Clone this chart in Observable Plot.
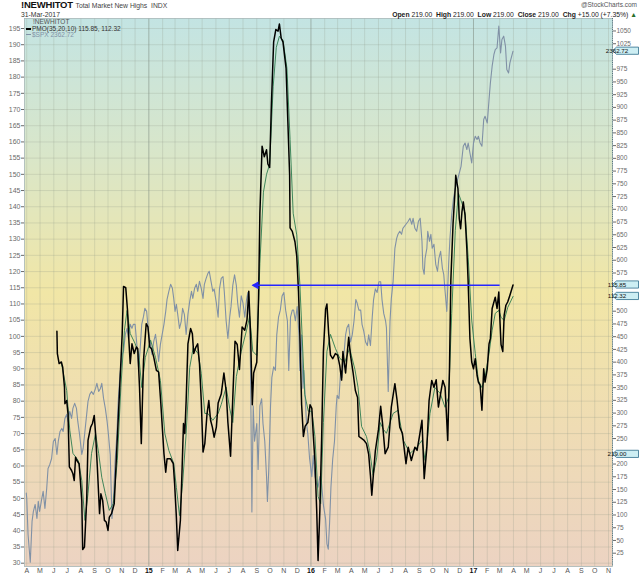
<!DOCTYPE html>
<html><head><meta charset="utf-8">
<script src="https://cdn.jsdelivr.net/npm/d3@7"></script>
<script src="https://cdn.jsdelivr.net/npm/@observablehq/plot@0.6"></script>
<style>
body{margin:0;background:#fff;}
#wrap{position:relative;width:640px;height:576px;font-family:"Liberation Sans",Arial,sans-serif;overflow:hidden;background:#fff}
#wrap svg{position:absolute;left:0;top:0}
.t{position:absolute;white-space:nowrap;line-height:1}
</style></head><body><div id="wrap"></div>
<script>
// ---------- data ----------
const pmo = [["2014-06-08",101.6],["2014-06-09",94.7],["2014-06-13",91.6],["2014-06-18",92.1],["2014-06-21",90.5],["2014-06-25",84.3],["2014-06-26",79.2],["2014-06-30",80.2],["2014-07-03",76.1],["2014-07-06",59.7],["2014-07-11",58.6],["2014-07-14",57.6],["2014-07-17",55.5],["2014-07-20",62.7],["2014-07-23",61.7],["2014-07-28",60.7],["2014-08-03",49.4],["2014-08-05",34.2],["2014-08-09",35.0],["2014-08-14",49.4],["2014-08-17",67.9],["2014-08-23",72.0],["2014-08-27",73.1],["2014-08-31",75.6],["2014-09-03",70.0],["2014-09-07",59.7],["2014-09-12",45.3],["2014-09-15",51.4],["2014-09-19",49.4],["2014-09-23",43.2],["2014-09-27",42.7],["2014-10-01",40.1],["2014-10-04",44.2],["2014-10-09",45.3],["2014-10-15",48.3],["2014-10-21",65.8],["2014-10-26",80.2],["2014-11-02",100.8],["2014-11-05",115.4],["2014-11-10",115.0],["2014-11-14",108.0],["2014-11-17",98.8],["2014-11-20",91.6],["2014-11-24",97.7],["2014-11-29",94.7],["2014-12-04",96.7],["2014-12-07",96.2],["2014-12-11",84.3],["2014-12-15",66.9],["2014-12-20",92.6],["2014-12-26",103.9],["2014-12-30",102.9],["2015-01-03",96.7],["2015-01-07",96.2],["2015-01-12",93.6],["2015-01-18",89.5],["2015-01-23",89.0],["2015-01-28",79.2],["2015-02-04",63.8],["2015-02-08",58.1],["2015-02-11",62.2],["2015-02-19",62.2],["2015-02-25",60.7],["2015-02-28",54.5],["2015-03-04",44.2],["2015-03-07",33.9],["2015-03-13",43.2],["2015-03-17",59.7],["2015-03-20",73.1],["2015-03-23",70.0],["2015-03-26",80.2],["2015-03-30",97.7],["2015-04-05",102.4],["2015-04-09",100.8],["2015-04-12",94.7],["2015-04-17",96.7],["2015-04-21",97.7],["2015-04-25",91.6],["2015-04-29",80.2],["2015-05-03",64.3],["2015-05-07",66.9],["2015-05-12",76.1],["2015-05-16",80.2],["2015-05-20",74.1],["2015-05-24",72.0],["2015-05-28",68.9],["2015-06-02",72.0],["2015-06-06",79.4],["2015-06-13",82.2],["2015-06-19",88.7],["2015-06-24",83.3],["2015-06-28",73.4],["2015-07-04",63.0],["2015-07-09",81.1],["2015-07-14",98.5],["2015-07-19",97.5],["2015-07-24",89.8],["2015-07-30",102.9],["2015-08-05",101.9],["2015-08-10",105.1],["2015-08-14",113.9],["2015-08-18",100.7],["2015-08-22",78.9],["2015-08-25",88.7],["2015-09-01",92.0],["2015-09-05",111.7],["2015-09-08",137.9],["2015-09-13",158.7],["2015-09-18",155.4],["2015-09-23",157.6],["2015-09-26",153.2],["2015-09-30",152.1],["2015-10-04",171.8],["2015-10-09",190.9],["2015-10-14",194.7],["2015-10-19",194.2],["2015-10-22",196.4],["2015-10-26",192.0],["2015-10-30",190.9],["2015-11-06",182.7],["2015-11-10",166.3],["2015-11-14",149.9],["2015-11-15",133.5],["2015-11-20",132.4],["2015-11-26",129.2],["2015-11-30",124.8],["2015-12-04",113.9],["2015-12-07",100.7],["2015-12-11",78.9],["2015-12-15",69.1],["2015-12-19",72.3],["2015-12-25",73.4],["2015-12-30",78.9],["2016-01-03",77.8],["2016-01-06",70.1],["2016-01-10",61.4],["2016-01-14",46.1],["2016-01-17",30.8],["2016-01-21",46.1],["2016-01-25",68.0],["2016-01-29",95.3],["2016-02-03",108.4],["2016-02-06",110.0],["2016-02-10",100.7],["2016-02-14",94.2],["2016-02-19",93.1],["2016-02-25",94.7],["2016-03-01",94.2],["2016-03-06",90.9],["2016-03-10",86.5],["2016-03-13",95.3],["2016-03-19",88.7],["2016-03-23",95.3],["2016-03-26",99.7],["2016-03-30",94.2],["2016-04-05",88.7],["2016-04-10",83.3],["2016-04-15",81.1],["2016-04-18",69.1],["2016-04-24",68.5],["2016-04-29",68.0],["2016-05-05",66.9],["2016-05-10",63.6],["2016-05-14",57.0],["2016-05-17",51.0],["2016-05-21",58.1],["2016-05-25",64.7],["2016-06-01",71.2],["2016-06-06",78.4],["2016-06-10",73.4],["2016-06-16",63.8],["2016-06-23",65.8],["2016-06-30",78.2],["2016-07-08",85.4],["2016-07-13",80.2],["2016-07-19",72.0],["2016-07-25",70.0],["2016-08-02",60.7],["2016-08-07",65.8],["2016-08-14",61.7],["2016-08-22",65.8],["2016-08-27",64.8],["2016-09-01",68.9],["2016-09-07",74.1],["2016-09-12",56.1],["2016-09-18",65.8],["2016-09-23",80.2],["2016-09-29",86.4],["2016-10-04",84.3],["2016-10-09",86.6],["2016-10-14",78.2],["2016-10-19",82.3],["2016-10-24",86.4],["2016-10-29",84.3],["2016-11-04",67.9],["2016-11-08",90.5],["2016-11-11",117.3],["2016-11-16",134.8],["2016-11-21",146.1],["2016-11-22",149.7],["2016-11-27",145.6],["2016-11-30",136.3],["2016-12-03",133.2],["2016-12-06",138.4],["2016-12-09",141.5],["2016-12-13",137.4],["2016-12-17",127.1],["2016-12-20",116.7],["2016-12-24",99.3],["2016-12-28",92.1],["2017-01-01",90.0],["2017-01-05",93.1],["2017-01-09",88.0],["2017-01-12",85.9],["2017-01-16",84.9],["2017-01-20",77.2],["2017-01-24",90.0],["2017-01-27",85.9],["2017-02-01",90.0],["2017-02-05",97.7],["2017-02-08",99.3],["2017-02-12",108.6],["2017-02-16",110.6],["2017-02-19",112.1],["2017-02-23",108.6],["2017-02-27",113.7],["2017-03-01",106.5],["2017-03-04",97.5],["2017-03-08",95.3],["2017-03-11",106.5],["2017-03-15",109.6],["2017-03-19",110.6],["2017-03-24",112.7],["2017-03-31",115.85]];

const pmoSignal = [["2014-06-18",91.7],["2014-06-30",83.3],["2014-07-07",71.0],["2014-07-14",63.9],["2014-07-26",61.7],["2014-08-03",55.5],["2014-08-10",43.2],["2014-08-17",51.5],["2014-08-25",63.9],["2014-09-03",70.0],["2014-09-10",63.9],["2014-09-17",56.5],["2014-09-25",51.5],["2014-10-04",46.3],["2014-10-13",48.4],["2014-10-22",61.7],["2014-10-30",84.2],["2014-11-07",101.9],["2014-11-13",108.0],["2014-11-20",100.9],["2014-12-01",97.8],["2014-12-09",94.7],["2014-12-16",84.2],["2014-12-24",93.5],["2015-01-05",98.8],["2015-01-16",93.5],["2015-01-27",86.4],["2015-02-06",70.0],["2015-02-15",64.8],["2015-02-26",60.8],["2015-03-04",53.4],["2015-03-11",44.7],["2015-03-18",54.6],["2015-03-26",70.0],["2015-04-03",90.4],["2015-04-11",96.6],["2015-04-22",94.7],["2015-04-29",88.6],["2015-05-07",76.2],["2015-05-14",76.2],["2015-05-25",74.1],["2015-06-06",76.2],["2015-06-13",79.0],["2015-06-24",84.3],["2015-07-02",77.8],["2015-07-09",73.4],["2015-07-17",87.6],["2015-07-28",95.4],["2015-08-09",101.9],["2015-08-16",106.2],["2015-08-23",95.4],["2015-09-01",94.1],["2015-09-08",122.5],["2015-09-16",144.5],["2015-09-23",150.0],["2015-09-30",153.1],["2015-10-08",177.2],["2015-10-15",189.2],["2015-10-22",192.6],["2015-10-30",191.4],["2015-11-08",182.7],["2015-11-15",160.8],["2015-11-22",138.0],["2015-11-30",131.3],["2015-12-07",116.1],["2015-12-12",100.6],["2015-12-18",82.1],["2015-12-26",76.9],["2016-01-03",76.9],["2016-01-10",69.1],["2016-01-17",50.6],["2016-01-23",48.4],["2016-01-29",73.4],["2016-02-06",95.4],["2016-02-14",100.6],["2016-02-25",96.3],["2016-03-06",93.2],["2016-03-17",92.0],["2016-03-28",96.3],["2016-04-09",89.8],["2016-04-16",84.3],["2016-04-24",72.2],["2016-05-05",69.1],["2016-05-12",64.8],["2016-05-20",57.1],["2016-05-28",62.5],["2016-06-05",73.4],["2016-06-12",71.3],["2016-06-19",70.1],["2016-07-04",76.2],["2016-07-15",77.2],["2016-07-27",67.9],["2016-08-11",63.9],["2016-08-26",65.7],["2016-09-07",67.9],["2016-09-14",61.7],["2016-09-25",76.2],["2016-10-06",84.2],["2016-10-18",82.4],["2016-10-29",78.1],["2016-11-06",81.2],["2016-11-13",107.1],["2016-11-21",132.7],["2016-11-28",144.2],["2016-12-06",141.1],["2016-12-13",138.0],["2016-12-20",124.4],["2016-12-28",105.0],["2017-01-05",94.7],["2017-01-12",86.4],["2017-01-20",84.2],["2017-01-27",87.3],["2017-02-05",94.7],["2017-02-12",101.9],["2017-02-19",107.1],["2017-02-27",108.0],["2017-03-04",105.9],["2017-03-11",104.9],["2017-03-19",108.9],["2017-03-31",112.32]];

const spx = [["2014-03-31",1890.2],["2014-04-01",1884.9],["2014-04-04",1846.1],["2014-04-09",1816.4],["2014-04-13",1860.0],["2014-04-16",1870.7],["2014-04-20",1878.1],["2014-04-24",1863.2],["2014-04-27",1881.4],["2014-04-30",1870.7],["2014-05-05",1884.6],["2014-05-08",1892.1],["2014-05-12",1873.9],["2014-05-16",1895.2],["2014-05-19",1916.6],["2014-05-23",1920.9],["2014-05-27",1927.3],["2014-05-31",1945.5],["2014-06-04",1948.7],["2014-06-08",1931.6],["2014-06-11",1945.5],["2014-06-15",1956.2],["2014-06-19",1959.4],["2014-06-22",1956.2],["2014-06-26",1970.1],["2014-06-30",1974.4],["2014-07-03",1966.9],["2014-07-07",1977.6],["2014-07-11",1970.1],["2014-07-14",1980.8],["2014-07-18",1986.2],["2014-07-22",1980.8],["2014-07-25",1966.9],["2014-07-29",1953.0],["2014-08-03",1931.6],["2014-08-06",1938.0],["2014-08-10",1956.2],["2014-08-14",1974.4],["2014-08-17",1988.3],["2014-08-21",1995.8],["2014-08-25",1999.0],["2014-08-29",1995.8],["2014-09-03",2002.2],["2014-09-06",2007.6],["2014-09-10",1999.0],["2014-09-14",2002.2],["2014-09-17",2007.6],["2014-09-21",1991.5],["2014-09-25",1980.8],["2014-09-29",1966.9],["2014-10-02",1953.0],["2014-10-06",1931.6],["2014-10-10",1863.2],["2014-10-13",1881.4],["2014-10-17",1924.2],["2014-10-21",1953.0],["2014-10-24",1988.3],["2014-10-28",2017.2],["2014-11-02",2038.6],["2014-11-05",2041.8],["2014-11-09",2060.0],["2014-11-13",2066.4],["2014-11-16",2055.7],["2014-11-20",2070.7],["2014-11-24",2066.4],["2014-11-27",2070.7],["2014-12-01",2070.7],["2014-12-05",2049.3],["2014-12-09",2023.6],["2014-12-12",2041.8],["2014-12-16",2070.7],["2014-12-20",2079.2],["2014-12-23",2087.8],["2014-12-27",2084.6],["2014-12-31",2063.2],["2015-01-05",2049.3],["2015-01-08",2038.6],["2015-01-12",2052.5],["2015-01-16",2060.0],["2015-01-20",2045.0],["2015-01-23",2031.1],["2015-01-27",2049.3],["2015-01-31",2060.0],["2015-02-04",2070.7],["2015-02-08",2084.6],["2015-02-11",2097.4],["2015-02-15",2106.0],["2015-02-19",2113.5],["2015-02-23",2109.2],["2015-02-26",2098.5],["2015-03-01",2084.6],["2015-03-04",2092.1],["2015-03-07",2081.4],["2015-03-11",2066.4],["2015-03-15",2073.9],["2015-03-18",2087.8],["2015-03-22",2081.4],["2015-03-26",2060.0],["2015-03-30",2081.4],["2015-04-03",2095.3],["2015-04-07",2106.0],["2015-04-10",2098.5],["2015-04-14",2109.2],["2015-04-18",2113.5],["2015-04-21",2106.0],["2015-04-25",2116.7],["2015-04-29",2109.2],["2015-05-03",2098.5],["2015-05-06",2113.5],["2015-05-10",2119.9],["2015-05-14",2125.2],["2015-05-17",2127.4],["2015-05-21",2116.7],["2015-05-25",2106.0],["2015-05-28",2108.6],["2015-06-02",2093.5],["2015-06-06",2078.3],["2015-06-09",2108.6],["2015-06-13",2119.9],["2015-06-17",2121.8],["2015-06-20",2104.8],["2015-06-24",2074.5],["2015-06-28",2055.6],["2015-07-02",2078.3],["2015-07-05",2089.6],["2015-07-09",2112.4],["2015-07-13",2123.7],["2015-07-17",2112.4],["2015-07-20",2093.5],["2015-07-24",2078.3],["2015-07-28",2101.1],["2015-08-01",2093.5],["2015-08-05",2078.3],["2015-08-09",2097.2],["2015-08-12",2104.8],["2015-08-16",2074.5],["2015-08-18",2021.5],["2015-08-21",1870.0],["2015-08-24",1983.6],["2015-08-27",1945.7],["2015-09-01",1964.7],["2015-09-04",1915.6],["2015-09-08",1983.6],["2015-09-12",1991.2],["2015-09-15",1964.7],["2015-09-19",1945.7],["2015-09-23",1907.9],["2015-09-25",1881.4],["2015-09-28",1915.6],["2015-10-02",1983.6],["2015-10-05",2014.0],["2015-10-09",2025.3],["2015-10-13",2021.5],["2015-10-16",2059.4],["2015-10-20",2078.3],["2015-10-24",2085.9],["2015-10-28",2101.1],["2015-11-01",2104.8],["2015-11-05",2085.9],["2015-11-09",2074.5],["2015-11-12",2021.5],["2015-11-16",2078.3],["2015-11-20",2085.9],["2015-11-23",2085.9],["2015-11-27",2074.5],["2015-12-01",2089.6],["2015-12-05",2059.4],["2015-12-07",2021.5],["2015-12-11",2059.4],["2015-12-14",2002.5],["2015-12-16",2021.5],["2015-12-20",1983.6],["2015-12-22",1964.7],["2015-12-25",1953.3],["2015-12-29",1926.8],["2016-01-03",1907.9],["2016-01-06",1930.5],["2016-01-10",1907.9],["2016-01-14",1900.3],["2016-01-17",1896.6],["2016-01-21",1907.9],["2016-01-25",1900.3],["2016-01-29",1877.6],["2016-02-03",1862.4],["2016-02-06",1836.0],["2016-02-09",1830.3],["2016-02-12",1858.7],["2016-02-15",1896.6],["2016-02-19",1926.8],["2016-02-23",1945.7],["2016-02-27",1983.6],["2016-02-29",1994.9],["2016-03-04",1991.2],["2016-03-08",2021.5],["2016-03-11",2014.0],["2016-03-15",2036.7],["2016-03-19",2059.4],["2016-03-22",2067.0],["2016-03-26",2070.7],["2016-03-30",2051.8],["2016-04-03",2059.4],["2016-04-07",2074.5],["2016-04-11",2097.2],["2016-04-14",2093.5],["2016-04-18",2085.9],["2016-04-22",2085.9],["2016-04-25",2070.7],["2016-04-29",2063.2],["2016-05-03",2051.8],["2016-05-07",2048.0],["2016-05-10",2059.4],["2016-05-14",2048.0],["2016-05-18",2078.3],["2016-05-21",2097.2],["2016-05-25",2108.6],["2016-05-29",2104.8],["2016-06-02",2116.2],["2016-06-06",2116.2],["2016-06-09",2097.2],["2016-06-13",2082.1],["2016-06-17",2074.5],["2016-06-19",2066.9],["2016-06-23",1999.0],["2016-06-27",2073.9],["2016-06-30",2098.5],["2016-07-04",2116.7],["2016-07-08",2152.0],["2016-07-12",2162.7],["2016-07-15",2167.0],["2016-07-19",2170.2],["2016-07-23",2167.0],["2016-07-26",2173.4],["2016-08-02",2177.7],["2016-08-07",2180.9],["2016-08-11",2184.1],["2016-08-15",2177.7],["2016-08-18",2184.1],["2016-08-22",2173.4],["2016-08-26",2170.2],["2016-08-30",2180.9],["2016-09-03",2184.1],["2016-09-07",2159.5],["2016-09-09",2130.6],["2016-09-12",2124.2],["2016-09-14",2141.3],["2016-09-18",2152.0],["2016-09-20",2170.2],["2016-09-24",2159.5],["2016-09-27",2167.0],["2016-09-30",2152.0],["2016-10-04",2156.3],["2016-10-08",2134.9],["2016-10-12",2127.4],["2016-10-15",2141.3],["2016-10-19",2148.8],["2016-10-23",2130.6],["2016-10-26",2124.2],["2016-10-29",2106.0],["2016-11-02",2084.6],["2016-11-06",2134.9],["2016-11-09",2162.7],["2016-11-13",2188.4],["2016-11-17",2205.5],["2016-11-21",2216.2],["2016-11-28",2229.0],["2016-12-04",2239.7],["2016-12-09",2261.1],["2016-12-13",2264.6],["2016-12-17",2257.6],["2016-12-20",2264.6],["2016-12-24",2253.9],["2016-12-28",2243.2],["2017-01-01",2264.6],["2017-01-05",2271.8],["2017-01-09",2268.3],["2017-01-12",2271.8],["2017-01-16",2264.6],["2017-01-20",2261.1],["2017-01-24",2289.7],["2017-01-27",2293.2],["2017-02-01",2286.0],["2017-02-05",2311.0],["2017-02-08",2328.8],["2017-02-12",2346.7],["2017-02-16",2359.2],["2017-02-19",2364.5],["2017-02-23",2366.2],["2017-02-27",2389.5],["2017-03-01",2375.2],["2017-03-03",2360.9],["2017-03-06",2375.2],["2017-03-10",2378.8],["2017-03-14",2368.1],["2017-03-17",2343.1],["2017-03-21",2339.5],["2017-03-24",2350.2],["2017-03-31",2362.72]];

const leftTicks = d3.range(30, 196, 5);
const rightTicks = d3.range(25, 1051, 25).filter(v => ![225, 525, 550, 1000].includes(v));
const monthLetters = ["J","F","M","A","M","J","J","A","S","O","N","D"];
const arrowLevel = 115.75, arrowFrom = "2015-08-24", arrowTo = "2017-03-02";
const lastPmo = 115.85, lastSignal = 112.32, lastSpx = 2362.72, lastClose = 219.00;

// ---------- layout ----------
const xDomain = [new Date("2014-03-27"), new Date("2017-11-10")];
const months = d3.utcMonths(new Date("2014-04-01"), new Date("2017-11-02"));
const jans = months.filter(d => d.getUTCMonth() === 0);
const others = months.filter(d => d.getUTCMonth() !== 0);
const font = "'Liberation Sans', Arial, sans-serif";
const base = {
  width: 640, height: 576, marginTop: 18, marginBottom: 10, marginLeft: 24, marginRight: 28,
  x: {type: "utc", domain: xDomain, axis: null},
  style: {background: "transparent", fontFamily: font, overflow: "visible"}
};
const P = a => a.map(([d, v]) => ({date: new Date(d), value: v}));

function tag(yv, label) {
  return (index, scales, values, dims) => {
    const g = d3.create("svg:g");
    const x0 = dims.width - dims.marginRight + 0.5;
    const y = scales.y(yv);
    g.append("path")
      .attr("d", `M${x0},${y}L${x0 + 4},${y - 3.6}H${x0 + 26}V${y + 3.6}H${x0 + 4}Z`)
      .attr("fill", "#cdeef3").attr("stroke", "#2e6d8c").attr("stroke-width", 0.8);
    g.append("text").attr("x", x0 + 4.5).attr("y", y).attr("dy", "0.35em")
      .attr("font-size", 6.2).attr("fill", "#111").attr("font-family", font).text(label);
    return g.node();
  };
}

const wrap = document.getElementById("wrap");

// A: background, grid, left & bottom axes
const svgA = Plot.plot({
  ...base,
  y: {domain: [28.98, 198.09], axis: null},
  marks: [
    Plot.frame({fill: "url(#bgGrad)"}),
    Plot.ruleY(leftTicks, {stroke: "#8f9a86", strokeOpacity: 0.35, strokeWidth: 0.7}),
    Plot.ruleX(others, {stroke: "#8f9a86", strokeOpacity: 0.35, strokeWidth: 0.7}),
    Plot.ruleX(jans, {stroke: "#7d8a80", strokeOpacity: 0.7, strokeWidth: 0.8}),
    Plot.axisY(leftTicks, {anchor: "left", tickSize: 3, tickPadding: 1, fontSize: 7, label: null, color: "#6a6a6a", tickFormat: d => String(d)}),
    Plot.axisX(others, {anchor: "bottom", tickSize: 0, tickPadding: 2, fontSize: 7, label: null, fill: "#555",
      tickFormat: d => monthLetters[d.getUTCMonth()]}),
    Plot.axisX(jans, {anchor: "bottom", tickSize: 0, tickPadding: 2, fontSize: 7, label: null, fill: "#111", fontWeight: "bold",
      tickFormat: d => String(d.getUTCFullYear()).slice(2)}),
    Plot.frame({stroke: "#a6b6b6", strokeWidth: 0.8})
  ]
});
const defs = d3.select(svgA).insert("defs", ":first-child");
const lg = defs.append("linearGradient").attr("id", "bgGrad").attr("x1", 0).attr("y1", 0).attr("x2", 0).attr("y2", 1);
[[0, "#c3e4e3"], [0.25, "#d9e6c9"], [0.5, "#f1e6a6"], [0.75, "#efdcb4"], [1, "#ecd3c2"]]
  .forEach(([o, c]) => lg.append("stop").attr("offset", o).attr("stop-color", c));
wrap.appendChild(svgA);

// B: $SPX overlay (own hidden scale)
const svgB = Plot.plot({
  ...base,
  y: {domain: [1811.8, 2397.7], axis: null},
  marks: [
    Plot.line(P(spx), {x: "date", y: "value", stroke: "#8091a6", strokeWidth: 1.1}),
    tag(lastSpx, "2362.72")
  ]
});
wrap.appendChild(svgB);

// C: right axis (!NEWHITOT price scale)
const svgC = Plot.plot({
  ...base,
  y: {domain: [-1.1, 1074.5], axis: null},
  marks: [
    Plot.ruleX([xDomain[1]], {stroke: "#3d6170", strokeDasharray: "1,1.2", strokeWidth: 0.8}),
    Plot.axisY(rightTicks, {anchor: "right", tickSize: 3, tickPadding: 1, fontSize: 6.5, label: null, color: "#6a6a6a", tickFormat: d => String(d)}),
    tag(lastClose, "219.00")
  ]
});
wrap.appendChild(svgC);

// D: PMO, signal, arrow
const svgD = Plot.plot({
  ...base,
  y: {domain: [28.98, 198.09], axis: null},
  marks: [
    Plot.line(P(pmoSignal), {x: "date", y: "value", stroke: "#2e7d50", strokeWidth: 0.9}),
    Plot.line(P(pmo), {x: "date", y: "value", stroke: "#000", strokeWidth: 1.5}),
    Plot.ruleY([arrowLevel], {x1: new Date(arrowFrom), x2: new Date(arrowTo), stroke: "#2626ff", strokeWidth: 1.4}),
    Plot.dot([{date: new Date(arrowFrom), value: arrowLevel}], {x: "date", y: "value", symbol: "triangle", rotate: -90, r: 3, dx: 3, fill: "#2626ff", stroke: "none"}),
    tag(lastPmo, "115.85"),
    tag(lastSignal, "112.32")
  ]
});
wrap.appendChild(svgD);

// header & legend text
function addText(html, css) {
  const d = document.createElement("div");
  d.className = "t"; d.innerHTML = html; d.style.cssText += css; wrap.appendChild(d);
}
addText(`<b style="font-size:9.5px;color:#111;letter-spacing:-0.2px">!NEWHITOT</b> <span style="font-size:6.8px;color:#444">Total Market New Highs&nbsp; INDX</span>`, "left:21px;top:0px;font-size:9.5px;");
addText(`31-Mar-2017`, "left:21px;top:11.5px;font-size:6.8px;color:#333;");
addText(`@StockCharts.com`, "right:3px;top:2px;font-size:6.5px;color:#555;");
addText(`<b>Open</b> 219.00 &nbsp;<b>High</b> 219.00 &nbsp;<b>Low</b> 219.00 &nbsp;<b>Close</b> 219.00 &nbsp;<b>Chg</b> +15.00 (+7.35%) <span style="color:#2a6e2a">&#9650;</span>`, "right:3px;top:11.5px;font-size:6.8px;color:#222;");
addText(`!NEWHITOT`, "left:33px;top:19px;font-size:6.5px;color:#555;");
addText(`<span style="display:inline-block;width:5px;height:2px;background:#000;vertical-align:middle;margin-right:1px"></span>PMO(35,20,10) 115.85, 112.32`, "left:26px;top:25.5px;font-size:6.5px;color:#333;");
addText(`<span style="display:inline-block;width:5px;height:1px;background:#8091a6;vertical-align:middle;margin-right:1px"></span>$SPX 2362.72`, "left:26px;top:31.5px;font-size:6.5px;color:#8091a6;");
</script>
</body></html>
